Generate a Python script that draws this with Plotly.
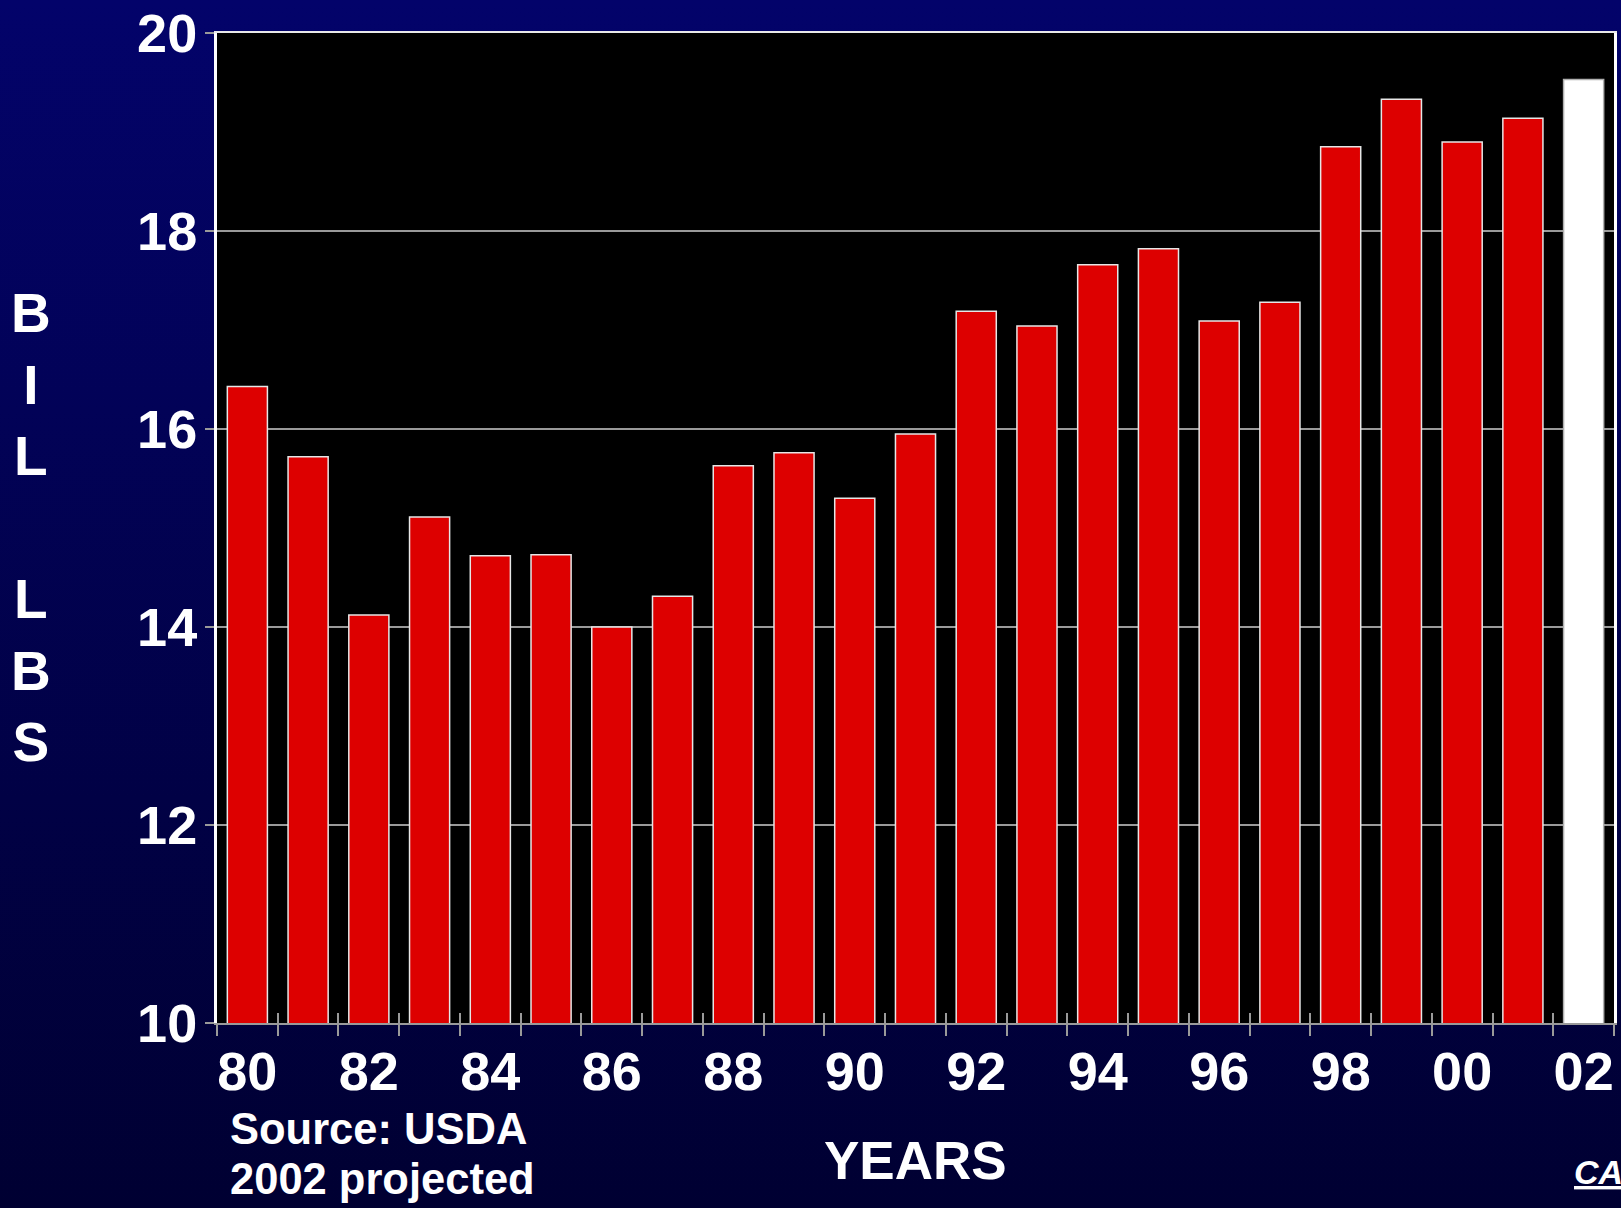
import base64
import plotly.graph_objects as go

# ---- data ----
years = ["80", "81", "82", "83", "84", "85", "86", "87", "88", "89", "90", "91",
         "92", "93", "94", "95", "96", "97", "98", "99", "00", "01", "02"]
production = [16.43, 15.72, 14.12, 15.11, 14.72, 14.73, 14.00, 14.31, 15.63, 15.76,
              15.30, 15.95, 17.19, 17.04, 17.66, 17.82, 17.09, 17.28, 18.85, 19.33,
              18.90, 19.14, 19.53]
projected = [False] * 22 + [True]
xtick_labels = ["80", "82", "84", "86", "88", "90", "92", "94", "96", "98", "00", "02"]
y_ticks = [10, 12, 14, 16, 18, 20]

# ---- layout geometry (pixels) ----
W, H = 1621, 1208
L, R, T, B = 217, 7, 33, 185
PW, PH = W - L - R, H - T - B


def fx(px):
    return (px - L) / PW


def fy(py):
    return (H - B - py) / PH


FONT = "Liberation Sans, Arial, sans-serif"

bar_colors = ["#ffffff" if p else "#dd0000" for p in projected]
line_colors = ["#b0b0b0" if p else "#e6e6e6" for p in projected]

fig = go.Figure()
fig.add_trace(go.Bar(
    x=years, y=production,
    marker=dict(color=bar_colors, line=dict(color=line_colors, width=1.5)),
    width=0.66,
    hoverinfo="x+y",
))

# gradient background as svg image
svg = ('<svg xmlns="http://www.w3.org/2000/svg" width="100" height="100" preserveAspectRatio="none">'
       '<defs><linearGradient id="g" x1="0" y1="0" x2="0" y2="1">'
       '<stop offset="0" stop-color="#03036a"/><stop offset="1" stop-color="#000032"/>'
       '</linearGradient></defs><rect width="100" height="100" fill="url(#g)"/></svg>')
src = "data:image/svg+xml;base64," + base64.b64encode(svg.encode()).decode()

grey = "#9a9a9a"

fig.update_layout(
    width=W, height=H, autosize=False,
    margin=dict(l=L, r=R, t=T, b=B, pad=0, autoexpand=False),
    paper_bgcolor="#000040",
    plot_bgcolor="black",
    showlegend=False,
    bargap=0.34,
    images=[dict(source=src, xref="paper", yref="paper", x=fx(0), y=fy(0),
                 sizex=W / PW, sizey=H / PH, xanchor="left", yanchor="top",
                 sizing="stretch", layer="below")],
    shapes=[dict(type="rect", xref="paper", yref="paper", x0=0, x1=1, y0=0, y1=1,
                 fillcolor="black", line=dict(width=0), layer="below")],
    xaxis=dict(
        type="category", range=[-0.5, len(years) - 0.5], automargin=False,
        tickmode="array", tickvals=xtick_labels, ticktext=xtick_labels,
        ticks="", showgrid=False, showline=True, linecolor=grey, linewidth=2,
        tickfont=dict(family=FONT, size=54, color="white", weight="bold"),
        ticklabelstandoff=0, fixedrange=True,
    ),
    xaxis2=dict(
        overlaying="x", anchor="y", side="bottom", type="linear", automargin=False,
        range=[-0.5, len(years) - 0.5], tickmode="linear", tick0=-0.5, dtick=1,
        ticks="outside", ticklen=12, tickwidth=1.5, tickcolor=grey,
        showticklabels=False, showgrid=False, showline=False, zeroline=False,
    ),
    xaxis3=dict(
        overlaying="x", anchor="y", side="bottom", type="linear", automargin=False,
        range=[-0.5, len(years) - 0.5], tickmode="linear", tick0=-0.5, dtick=1,
        ticks="inside", ticklen=10, tickwidth=1.5, tickcolor=grey,
        showticklabels=False, showgrid=False, showline=False, zeroline=False,
    ),
    xaxis4=dict(
        overlaying="x", anchor="y", side="top", type="linear", automargin=False,
        range=[-0.5, len(years) - 0.5], ticks="", showticklabels=False,
        showgrid=False, showline=True, linecolor="#e8e8e8", linewidth=2, zeroline=False,
    ),
    yaxis=dict(
        range=[10, 20], tickmode="array", tickvals=y_ticks, automargin=False,
        ticks="outside", ticklen=9, tickwidth=1.5, tickcolor=grey,
        showgrid=True, gridcolor=grey, gridwidth=1.5,
        showline=True, linecolor="white", linewidth=3, mirror=True,
        zeroline=False, ticklabelstandoff=-3,
        tickfont=dict(family=FONT, size=54, color="white", weight="bold"),
        fixedrange=True,
    ),
)

# invisible traces to anchor overlay axes
for ax in ["x2", "x3", "x4"]:
    fig.add_trace(go.Scatter(x=[0], y=[15], xaxis=ax, yaxis="y", mode="markers",
                             marker=dict(opacity=0), hoverinfo="skip", showlegend=False))

ann_font = dict(family=FONT, color="white", weight="bold")
fig.add_annotation(text="B<br>I<br>L<br><br>L<br>B<br>S", xref="paper", yref="paper",
                   x=fx(31), y=fy(527), xanchor="center", yanchor="middle",
                   showarrow=False, font=dict(size=55, **ann_font))
fig.add_annotation(text="YEARS", xref="paper", yref="paper",
                   x=fx(915), y=fy(1160), xanchor="center", yanchor="middle",
                   showarrow=False, font=dict(size=53, **ann_font))
fig.add_annotation(text="Source: USDA", xref="paper", yref="paper",
                   x=fx(228), y=fy(1129), xanchor="left", yanchor="middle",
                   showarrow=False, font=dict(size=43.5, **ann_font))
fig.add_annotation(text="2002 projected", xref="paper", yref="paper",
                   x=fx(228), y=fy(1179), xanchor="left", yanchor="middle",
                   showarrow=False, font=dict(size=43.5, **ann_font))
fig.add_annotation(text="<i><u>CATTLE-FAX</u></i>", xref="paper", yref="paper",
                   x=fx(1572), y=fy(1172), xanchor="left", yanchor="middle",
                   showarrow=False, font=dict(size=34, **ann_font))

fig.write_html("out.html", config={"displayModeBar": False},
               post_script="document.body.style.margin='0';")
